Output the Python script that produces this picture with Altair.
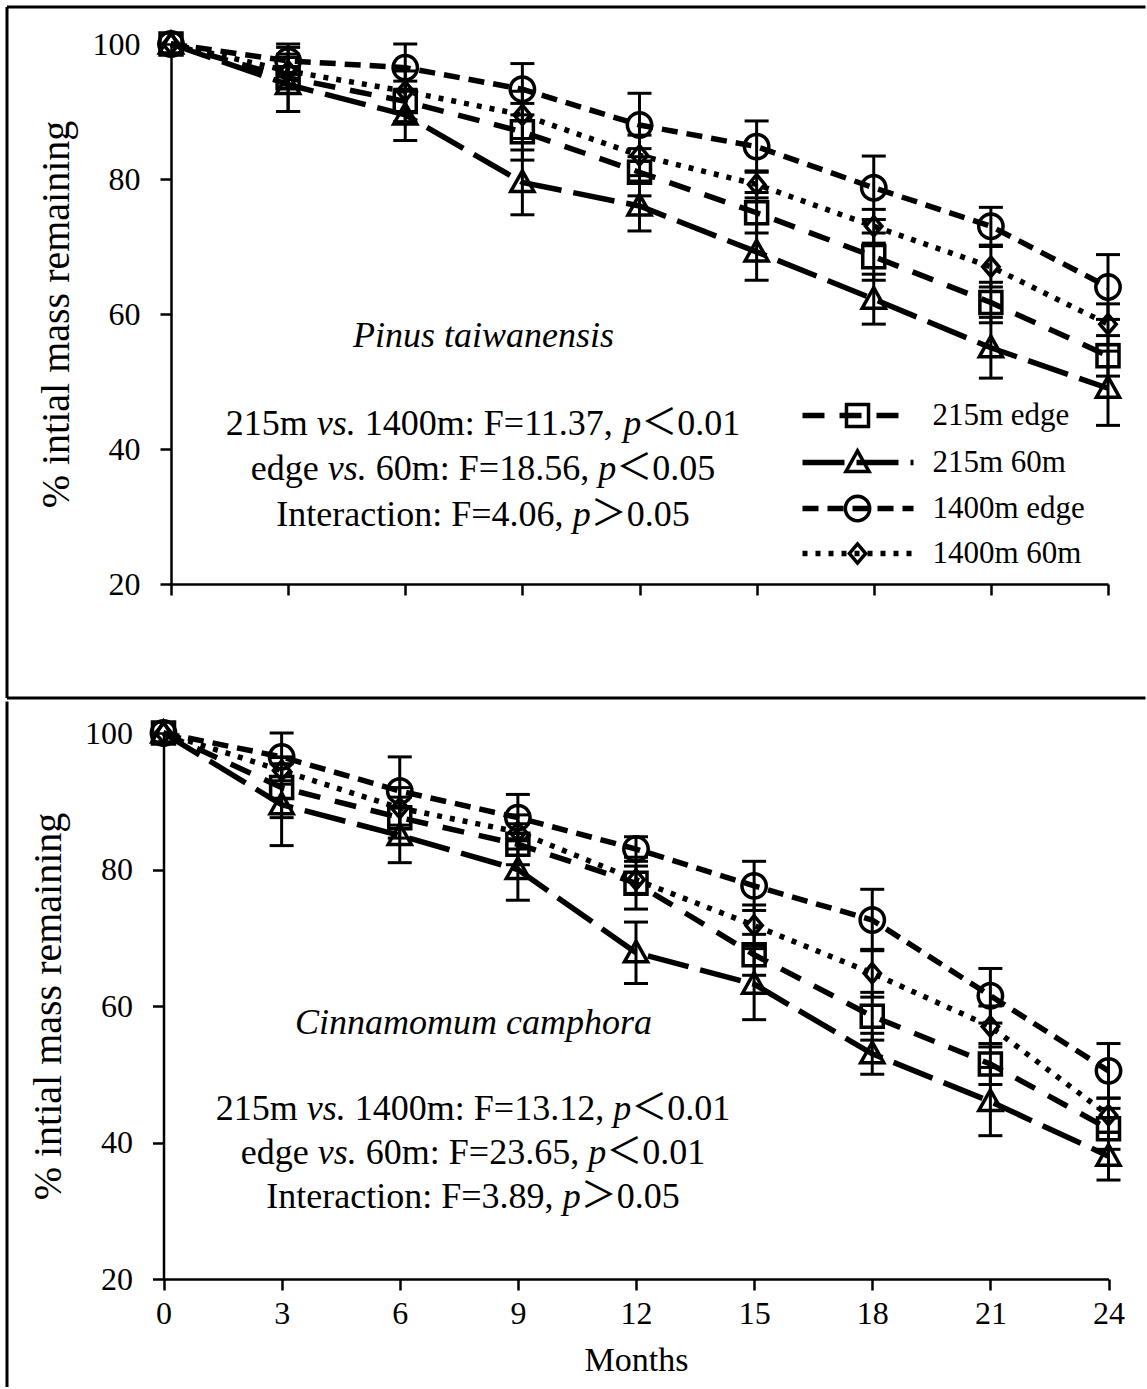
import altair as alt
import pandas as pd
import math

FONT = "Liberation Serif"
CJK_FONT = "Liberation Serif, Noto Sans CJK SC"

months = [0, 3, 6, 9, 12, 15, 18, 21, 24]
series_names = ["215m edge", "215m 60m", "1400m edge", "1400m 60m"]
y_ticks = [20, 40, 60, 80, 100]

# ---- Pinus taiwanensis (top panel) ----
pinus_215_edge = [100, 95.0, 91.5, 87.0, 81.0, 75.0, 68.5, 61.7, 53.8]
pinus_215_60 = [100, 94.0, 89.5, 79.5, 76.0, 69.2, 62.2, 55.0, 49.0]
pinus_1400_edge = [100, 97.5, 96.5, 93.3, 88.0, 84.8, 78.7, 73.0, 64.0]
pinus_1400_60 = [100, 96.0, 93.0, 89.5, 83.5, 79.2, 73.0, 67.0, 58.5]
pinus_215_edge_err = [0, 5.0, 3.0, 4.2, 3.5, 3.0, 3.5, 3.0, 3.0]
pinus_215_60_err = [0, 4.0, 3.8, 4.8, 3.7, 4.2, 3.7, 4.5, 5.5]
pinus_1400_edge_err = [0, 2.0, 3.5, 3.8, 4.7, 3.8, 4.7, 2.8, 4.8]
pinus_1400_60_err = [0, 2.5, 3.0, 3.5, 3.0, 2.0, 2.5, 3.0, 3.0]

# ---- Cinnamomum camphora (bottom panel) ----
cinna_215_edge = [100, 92.0, 87.6, 83.7, 78.0, 67.5, 58.5, 51.5, 42.0]
cinna_215_60 = [100, 89.5, 85.0, 80.0, 67.8, 63.2, 53.0, 46.0, 38.0]
cinna_1400_edge = [100, 96.5, 91.5, 87.6, 83.0, 77.6, 72.6, 61.5, 50.5]
cinna_1400_60 = [100, 94.5, 89.0, 85.5, 78.5, 71.8, 64.8, 57.0, 44.0]
cinna_215_edge_err = [0, 4.4, 3.0, 3.0, 3.8, 3.0, 3.5, 3.0, 3.0]
cinna_215_60_err = [0, 6.0, 4.0, 4.5, 4.5, 5.2, 3.0, 5.0, 3.5]
cinna_1400_edge_err = [0, 3.5, 5.0, 3.4, 1.8, 3.6, 4.5, 4.0, 4.0]
cinna_1400_60_err = [0, 2.0, 3.0, 2.5, 2.0, 3.0, 3.5, 3.0, 2.5]

pinus_title = "Pinus taiwanensis"
cinna_title = "Cinnamomum camphora"
pinus_stats = [
    [("215m ", "n"), ("vs.", "i"), (" 1400m: F=11.37, ", "n"), ("p", "i"), ("\uff1c0.01", "n")],
    [("edge ", "n"), ("vs.", "i"), (" 60m: F=18.56, ", "n"), ("p", "i"), ("\uff1c0.05", "n")],
    [("Interaction: F=4.06, ", "n"), ("p", "i"), ("\uff1e0.05", "n")],
]
cinna_stats = [
    [("215m ", "n"), ("vs.", "i"), (" 1400m: F=13.12, ", "n"), ("p", "i"), ("\uff1c0.01", "n")],
    [("edge ", "n"), ("vs.", "i"), (" 60m: F=23.65, ", "n"), ("p", "i"), ("\uff1c0.01", "n")],
    [("Interaction: F=3.89, ", "n"), ("p", "i"), ("\uff1e0.05", "n")],
]
y_title = "% intial mass remaining"
x_title = "Months"

# ---- styles ----
dash_range = [[22, 15], [42, 12], [16, 9], [5, 8]]
SYM = 1764  # 21 px per path unit


def polygon(n, r):
    pts = []
    for k in range(n):
        a = 2 * math.pi * k / n
        pts.append(f"{r*math.cos(a):.4f},{r*math.sin(a):.4f}")
    return "M" + "L".join(pts) + "Z"


shape_range = [
    "M-0.524,-0.524L0.524,-0.524L0.524,0.524L-0.524,0.524Z",
    "M0,-0.55L0.55,0.43L-0.55,0.43Z",
    polygon(32, 0.58),
    "M0,-0.46L0.39,0L0,0.46L-0.39,0Z",
]

# ---- text metrics (Times / Liberation Serif) ----
REG = {" ": 250, ".": 250, ",": 250, ":": 278, "=": 564, "F": 556, "I": 333,
       "a": 444, "c": 444, "d": 500, "e": 444, "g": 500, "i": 278, "m": 778,
       "n": 500, "o": 500, "r": 333, "s": 389, "t": 278, "v": 500, "p": 500,
       "\uff1c": 1000, "\uff1e": 1000}
ITA = {"v": 444, "s": 389, ".": 250, "p": 500, " ": 250}
for d in "0123456789":
    REG[d] = 500


def text_w(s, style, fs):
    tab = ITA if style == "i" else REG
    return sum(tab.get(c, 500) for c in s) * fs / 1000.0


def build_df(vals, errs):
    rows = []
    for name in series_names:
        for m, v, e in zip(months, vals[name], errs[name]):
            rows.append(dict(month=m, value=v, err=e, lo=v - e, hi=v + e,
                             series=name, label=name))
    return pd.DataFrame(rows)


def build_text(stats, cx, ys, pxm, pxv, fs):
    rows = []
    for line, yy in zip(stats, ys):
        total = sum(text_w(s, st, fs) for s, st in line)
        x = cx - total / 2.0
        for s, st in line:
            lead = len(s) - len(s.lstrip(" "))
            xs = x + lead * 250 * fs / 1000.0
            rows.append(dict(text=s.strip(" "), style=st,
                             tx=xs / pxm, ty=100 - yy / pxv))
            x += text_w(s, st, fs)
    return pd.DataFrame(rows)


def panel(df, w, h, xspan, xrange_, yoff, show_x, stats, species, sp_xy,
          stat_cx, stat_ys, frame, legend_pos):
    pxm = xspan / 24.0      # px per month
    pxv = h / 80.0          # px per % unit
    if xrange_ is None:
        xscale = alt.Scale(domain=[0, 24], nice=False, zero=False)
    else:
        xscale = alt.Scale(domain=[0, 24], nice=False, zero=False, range=xrange_)
    yscale = alt.Scale(domain=[20, 100], nice=False, zero=False)
    xaxis = alt.Axis(values=months, tickSize=11, tickWidth=2.5, tickColor="black",
                     domainColor="black", domainWidth=2.5, labels=show_x,
                     labelFont=FONT, labelFontSize=32, labelColor="black",
                     labelPadding=8, labelFlush=False, grid=False,
                     titleFont=FONT, titleFontSize=34, titleFontWeight="normal",
                     titleColor="black", titlePadding=14)
    yaxis = alt.Axis(values=y_ticks, tickSize=11, tickWidth=2.5, tickColor="black",
                     domainColor="black", domainWidth=2.5, labelFont=FONT,
                     labelFontSize=32, labelColor="black", labelPadding=20,
                     labelFlush=False, grid=False, titleFont=FONT,
                     titleFontSize=40, titleFontWeight="normal",
                     titleColor="black", titlePadding=16, offset=yoff)

    def X(f):
        if show_x:
            return alt.X(f, scale=xscale, axis=xaxis, title=x_title)
        return alt.X(f, scale=xscale, axis=xaxis, title=None)

    def Y(f):
        return alt.Y(f, scale=yscale, axis=yaxis, title=y_title)

    sd = alt.StrokeDash("series:N", scale=alt.Scale(domain=series_names, range=dash_range),
                        legend=None)
    sh = alt.Shape("label:N", scale=alt.Scale(domain=series_names, range=shape_range),
                   legend=None)

    base = alt.Chart(df)
    ebase = base.transform_filter("datum.err > 0")
    err = ebase.mark_rule(color="black", strokeWidth=3).encode(
        x=X("month:Q"), y=Y("lo:Q"), y2="hi:Q")
    cap_lo = ebase.mark_point(shape="M-1,0L1,0", size=576, filled=False,
                              color="black", strokeWidth=3, opacity=1).encode(
        x=X("month:Q"), y=Y("lo:Q"))
    cap_hi = ebase.mark_point(shape="M-1,0L1,0", size=576, filled=False,
                              color="black", strokeWidth=3, opacity=1).encode(
        x=X("month:Q"), y=Y("hi:Q"))
    lines = base.mark_line(color="black", strokeWidth=5.5).encode(
        x=X("month:Q"), y=Y("value:Q"), strokeDash=sd, order="month:Q")
    pts = base.mark_point(filled=False, color="black", strokeWidth=3.5, size=SYM,
                          opacity=1).encode(x=X("month:Q"), y=Y("value:Q"), shape=sh)

    fs = 36
    tdf = build_text(stats, stat_cx, stat_ys, pxm, pxv, fs)
    t_norm = alt.Chart(tdf).transform_filter("datum.style == 'n'").mark_text(
        font=CJK_FONT, fontSize=fs, align="left", baseline="middle", color="black").encode(
        x=X("tx:Q"), y=Y("ty:Q"), text="text:N")
    t_ita = alt.Chart(tdf).transform_filter("datum.style == 'i'").mark_text(
        font=FONT, fontSize=fs, fontStyle="italic", align="left", baseline="middle",
        color="black").encode(x=X("tx:Q"), y=Y("ty:Q"), text="text:N")
    sdf = pd.DataFrame([dict(text=species, tx=sp_xy[0] / pxm, ty=100 - sp_xy[1] / pxv)])
    t_sp = alt.Chart(sdf).mark_text(font=FONT, fontSize=fs, fontStyle="italic",
                                    align="center", baseline="middle", color="black").encode(
        x=X("tx:Q"), y=Y("ty:Q"), text="text:N")

    layers = [err, cap_lo, cap_hi, lines, pts, t_norm, t_ita, t_sp]

    if legend_pos is not None:
        (lx1, lx2, lxm, ltx, lys) = legend_pos
        ldf = pd.DataFrame([dict(series=s, label=s, x1=lx1 / pxm, x2=lx2 / pxm,
                                 xm=lxm / pxm, xt=ltx / pxm, yv=100 - yy / pxv)
                            for s, yy in zip(series_names, lys)])
        lbase = alt.Chart(ldf)
        l_line = lbase.mark_rule(color="black", strokeWidth=5.5).encode(
            x=X("x1:Q"), x2="x2:Q", y=Y("yv:Q"), strokeDash=sd)
        l_pt = lbase.mark_point(filled=False, color="black", strokeWidth=3.5, size=SYM,
                                opacity=1).encode(x=X("xm:Q"), y=Y("yv:Q"), shape=sh)
        l_txt = lbase.mark_text(font=FONT, fontSize=31, align="left", baseline="middle",
                                color="black").encode(x=X("xt:Q"), y=Y("yv:Q"), text="label:N")
        layers += [l_line, l_pt, l_txt]

    one = pd.DataFrame({"k": [0]})
    for f in frame:
        if f[0] == "v":
            layers.append(alt.Chart(one).mark_rule(color="black", strokeWidth=3).encode(
                x=alt.value(f[1]), y=alt.value(f[2]), y2=alt.value(f[3])))
        else:
            layers.append(alt.Chart(one).mark_rule(color="black", strokeWidth=3).encode(
                y=alt.value(f[1]), x=alt.value(f[2]), x2=alt.value(f[3])))

    return alt.layer(*layers).properties(width=w, height=h)


top_df = build_df(
    {"215m edge": pinus_215_edge, "215m 60m": pinus_215_60,
     "1400m edge": pinus_1400_edge, "1400m 60m": pinus_1400_60},
    {"215m edge": pinus_215_edge_err, "215m 60m": pinus_215_60_err,
     "1400m edge": pinus_1400_edge_err, "1400m 60m": pinus_1400_60_err})
bot_df = build_df(
    {"215m edge": cinna_215_edge, "215m 60m": cinna_215_60,
     "1400m edge": cinna_1400_edge, "1400m 60m": cinna_1400_60},
    {"215m edge": cinna_215_edge_err, "215m 60m": cinna_215_60_err,
     "1400m edge": cinna_1400_edge_err, "1400m 60m": cinna_1400_60_err})

# top panel: plot origin at page (170.5, 43.5)
top = panel(top_df, 937, 540, 937, None, 0, False, pinus_stats, pinus_title,
            (312.5, 291.5), 312, [379.5, 424.5, 470.5],
            [("v", -164, -37, 654), ("h", -37, -164, 974.5), ("h", 654, -164, 974.5)],
            (631.5, 742.5, 686.5, 761.5, [371.5, 418.5, 464.5, 509.5]))
# bottom panel: group origin at page x 170.5, scale zero at page x 163
bottom = panel(bot_df, 937.5, 546, 945, [-7.5, 937.5], 7.5, True, cinna_stats,
               cinna_title, (310, 290), 309.5, [376, 420, 464],
               [("v", -164, -31.5, 654)], None)

chart = alt.vconcat(top, bottom, spacing=0).properties(
    padding={"left": 5, "top": 5, "right": 0, "bottom": 0},
    background="white",
).configure_view(strokeWidth=0)

chart.save("out.html", embed_options={"renderer": "svg", "actions": False})
